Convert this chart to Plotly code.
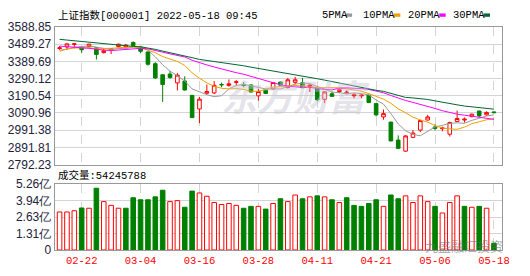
import plotly.graph_objects as go

# ---------------- data ----------------
dates = ["02-17", "02-18", "02-21", "02-22", "02-23", "02-24", "02-25", "02-28",
         "03-01", "03-02", "03-03", "03-04", "03-07", "03-08", "03-09", "03-10", "03-11",
         "03-14", "03-15", "03-16", "03-17", "03-18", "03-21", "03-22", "03-23", "03-24",
         "03-25", "03-28", "03-29", "03-30", "03-31",
         "04-01", "04-06", "04-07", "04-08", "04-11", "04-12", "04-13", "04-14", "04-15",
         "04-18", "04-19", "04-20", "04-21", "04-22", "04-25", "04-26", "04-27", "04-28", "04-29",
         "05-05", "05-06", "05-09", "05-10", "05-11", "05-12", "05-13", "05-16", "05-17", "05-18"]

opens = [3464, 3473, 3488, 3468, 3475, 3468, 3440, 3458, 3476, 3473,
         3499, 3473, 3444, 3376, 3312, 3316, 3265, 3276, 3193, 3114,
         3205, 3207, 3256, 3250, 3268, 3256, 3253, 3190, 3225, 3230,
         3270, 3238, 3268, 3266, 3245, 3230, 3170, 3202, 3215, 3206,
         3190, 3190, 3194, 3145, 3068, 3038, 2934, 2870, 2950, 2992,
         3050, 3010, 3000, 2968, 3042, 3050, 3070, 3102, 3080, 3097]
highs = [3478, 3493, 3495, 3470, 3491, 3471, 3465, 3466, 3492, 3490,
         3505, 3475, 3446, 3385, 3315, 3334, 3322, 3303, 3195, 3184,
         3255, 3276, 3267, 3285, 3281, 3270, 3256, 3230, 3228, 3268,
         3275, 3293, 3300, 3294, 3256, 3232, 3215, 3216, 3240, 3222,
         3206, 3200, 3196, 3146, 3111, 3040, 2961, 2962, 2992, 3052,
         3080, 3025, 3012, 3040, 3105, 3065, 3087, 3105, 3100, 3099]
lows = [3456, 3458, 3465, 3440, 3470, 3400, 3435, 3432, 3470, 3465,
        3478, 3438, 3365, 3287, 3155, 3290, 3221, 3220, 3062, 3032,
        3198, 3200, 3240, 3243, 3250, 3240, 3210, 3162, 3200, 3225,
        3250, 3233, 3256, 3235, 3212, 3160, 3148, 3185, 3205, 3200,
        3175, 3176, 3148, 3071, 3052, 2928, 2882, 2866, 2945, 2980,
        3048, 2990, 2985, 2955, 3040, 3035, 3065, 3068, 3075, 3089]
closes = [3468, 3491, 3491, 3457, 3489, 3430, 3451, 3462, 3489, 3484,
          3481, 3448, 3373, 3294, 3256, 3296, 3310, 3224, 3064, 3171,
          3215, 3251, 3254, 3260, 3271, 3250, 3212, 3215, 3204, 3267,
          3252, 3283, 3283, 3237, 3252, 3167, 3213, 3187, 3226, 3211,
          3196, 3194, 3151, 3080, 3087, 2929, 2886, 2958, 2975, 3047,
          3068, 3002, 3004, 3036, 3059, 3055, 3084, 3074, 3094, 3093]
prev_close = 3465.33

ma5 = [3454, 3460, 3472, 3474, 3479, 3472, 3464, 3458, 3464, 3463,
       3473, 3473, 3455, 3416, 3370, 3333, 3306, 3276, 3230, 3213,
       3197, 3185, 3191, 3230, 3250, 3257, 3249, 3242, 3230, 3230,
       3230, 3244, 3258, 3264, 3261, 3244, 3230, 3211, 3209, 3201,
       3207, 3203, 3196, 3166, 3142, 3088, 3027, 2988, 2967, 2959,
       2987, 3010, 3019, 3031, 3034, 3031, 3048, 3062, 3073, 3080]
ma10 = [3448, 3461, 3467, 3468, 3469, 3463, 3462, 3465, 3469, 3471,
        3473, 3468, 3456, 3440, 3417, 3403, 3389, 3366, 3323, 3292,
        3265, 3245, 3234, 3230, 3232, 3227, 3217, 3216, 3230, 3240,
        3244, 3247, 3250, 3247, 3246, 3237, 3237, 3235, 3237, 3231,
        3226, 3217, 3203, 3188, 3171, 3147, 3115, 3092, 3067, 3050,
        3038, 3018, 3004, 2999, 2996, 3009, 3029, 3040, 3052, 3057]
ma20 = [3478, 3476, 3474, 3468, 3465, 3458, 3455, 3452, 3455, 3456,
        3460, 3465, 3462, 3454, 3443, 3433, 3426, 3415, 3396, 3381,
        3369, 3357, 3345, 3335, 3324, 3315, 3303, 3291, 3277, 3266,
        3254, 3246, 3242, 3239, 3239, 3232, 3227, 3225, 3234, 3236,
        3235, 3232, 3227, 3218, 3208, 3192, 3176, 3163, 3152, 3141,
        3132, 3117, 3104, 3093, 3084, 3078, 3072, 3066, 3060, 3054]
ma30 = [3517, 3513, 3508, 3502, 3499, 3493, 3489, 3485, 3482, 3478,
        3476, 3474, 3468, 3459, 3449, 3440, 3433, 3423, 3411, 3401,
        3395, 3392, 3386, 3379, 3372, 3364, 3356, 3349, 3341, 3334,
        3327, 3320, 3313, 3306, 3298, 3289, 3281, 3272, 3263, 3254,
        3245, 3236, 3229, 3222, 3216, 3204, 3190, 3181, 3178, 3174,
        3169, 3161, 3152, 3145, 3138, 3131, 3127, 3122, 3119, 3113]

# volume in 亿
volumes = [3.04, 3.04, 3.14, 3.36, 3.34, 4.94, 3.87, 3.57, 3.34, 3.34,
           4.18, 4.02, 4.02, 4.25, 4.78, 3.87, 3.95, 3.42, 4.71, 4.56,
           4.30, 3.80, 3.64, 3.72, 3.57, 3.34, 3.49, 3.49, 3.27, 3.72,
           4.10, 3.87, 4.40, 4.10, 4.25, 4.33, 4.25, 4.02, 3.80, 4.18,
           3.57, 3.49, 3.72, 4.02, 3.49, 4.40, 4.10, 4.33, 3.80, 4.33,
           3.87, 3.49, 2.96, 3.80, 4.33, 3.49, 3.42, 3.49, 3.34, 0.54]

price_ticks = [2792.23, 2891.81, 2991.38, 3090.96, 3190.54, 3290.12, 3389.69, 3489.27, 3588.85]
vol_ticks = [0, 1.31, 2.63, 3.94, 5.26]
vol_tick_labels = ["0", "1.31亿", "2.63亿", "3.94亿", "5.26亿"]
label_dates = ["02-22", "03-04", "03-16", "03-28", "04-11", "04-21", "05-06", "05-18"]
title_text = "上证指数[000001] 2022-05-18 09:45"
latest_volume = 54245788
ma_names = ["5PMA", "10PMA", "20PMA", "30PMA"]

# ---------------- styling helpers ----------------
W, H = 530, 276
def px(x):
    return x / W
def py(y):
    return 1 - y / H

RED = "#ff0000"
GREEN = "#008000"
MA_COLORS = ["#999999", "#f0a000", "#ff00ff", "#006633"]

idx = list(range(len(dates)))
tickvals = [dates.index(d) for d in label_dates]

prevs = [prev_close] + closes[:-1]
vol_up = [c >= p for c, p in zip(closes, prevs)]
vol_fill = ["#ffffff" if u else GREEN for u in vol_up]
vol_line = [RED if u else GREEN for u in vol_up]

fig = go.Figure()

fig.add_trace(go.Candlestick(
    x=idx, open=opens, high=highs, low=lows, close=closes,
    increasing=dict(line=dict(color=RED, width=1), fillcolor="#ffffff"),
    decreasing=dict(line=dict(color=GREEN, width=1), fillcolor=GREEN),
    whiskerwidth=0, showlegend=False, hoverinfo="skip",
    xaxis="x", yaxis="y"))

for name, series, col in zip(ma_names, [ma5, ma10, ma20, ma30], MA_COLORS):
    fig.add_trace(go.Scatter(x=idx, y=series, mode="lines", name=name,
                             line=dict(color=col, width=1), showlegend=False,
                             hoverinfo="skip", xaxis="x", yaxis="y"))

fig.add_trace(go.Bar(x=idx, y=volumes, width=0.62,
                     marker=dict(color=vol_fill, line=dict(color=vol_line, width=1)),
                     showlegend=False, hoverinfo="skip", xaxis="x2", yaxis="y2"))

xr = [-0.67, 60.07]
axis_font = dict(family="Liberation Sans, Arial, sans-serif", size=12, color="#22223a")
mono = "Liberation Mono, DejaVu Sans Mono, Noto Sans CJK SC, monospace"

common_x = dict(range=xr, tickvals=tickvals, showgrid=True, gridcolor="#d4d4d4",
                griddash="dash", gridwidth=1, showline=True, mirror=True,
                linecolor="#999999", linewidth=1, zeroline=False, ticks="",
                domain=[px(55.5), px(509.5)], fixedrange=True)

fig.update_layout(
    width=W, height=H, margin=dict(l=0, r=0, t=0, b=0),
    paper_bgcolor="#ffffff", plot_bgcolor="#ffffff",
    xaxis=dict(**common_x, showticklabels=False, anchor="y",
               rangeslider=dict(visible=False)),
    yaxis=dict(domain=[py(166), py(21)], range=[price_ticks[0], price_ticks[-1]],
               tickvals=price_ticks, ticktext=[f"{v:.2f}" for v in price_ticks],
               tickfont=axis_font, showgrid=True, gridcolor="#d4d4d4",
               showline=True, mirror=True, linecolor="#999999", zeroline=False,
               ticks="", anchor="x", fixedrange=True),
    xaxis2=dict(**common_x, anchor="y2", ticktext=label_dates,
                tickfont=dict(family=mono, size=10.5, color=RED)),
    yaxis2=dict(domain=[py(256), py(186.7)], range=[vol_ticks[0], vol_ticks[-1]],
                tickvals=vol_ticks, ticktext=vol_tick_labels,
                tickfont=axis_font, showgrid=True, gridcolor="#d4d4d4",
                showline=True, mirror=True, linecolor="#999999", zeroline=False,
                ticks="", anchor="x2", fixedrange=True),
    bargap=0.3,
)

annotations = []
annotations.append(dict(text=title_text, x=px(57), y=py(8.5), xref="paper", yref="paper",
                        xanchor="left", yanchor="middle", showarrow=False,
                        font=dict(family=mono, size=10.5, color="#000000")))
annotations.append(dict(text=f"成交量:{latest_volume}", x=px(57), y=py(177.5),
                        xref="paper", yref="paper", xanchor="left", yanchor="middle",
                        showarrow=False, font=dict(family=mono, size=10.5, color="#000000")))

# legend (text then coloured swatch)
leg_text_x = [325, 367, 412, 458]
leg_box_x = [351, 400, 446, 491]
shapes = []
for name, col, tx, bx in zip(ma_names, MA_COLORS, leg_text_x, leg_box_x):
    annotations.append(dict(text=name, x=px(tx), y=py(8.5), xref="paper", yref="paper",
                            xanchor="left", yanchor="middle", showarrow=False,
                            font=dict(family=mono, size=10.5, color="#000000")))
    shapes.append(dict(type="rect", xref="paper", yref="paper",
                       x0=px(bx), x1=px(bx + 6.5), y0=py(10.3), y1=py(6.8),
                       fillcolor=col, line=dict(width=0)))

# watermarks
annotations.append(dict(text="<i><b>东方财富</b></i>", x=px(300), y=py(93), xref="paper", yref="paper",
                        xanchor="center", yanchor="middle", showarrow=False,
                        font=dict(family="Noto Sans CJK SC", size=36, color="rgba(195,195,208,0.45)")))
annotations.append(dict(text="九盛融汇投资", x=px(513), y=py(251), xref="paper", yref="paper",
                        xanchor="right", yanchor="middle", showarrow=False,
                        font=dict(family="Noto Sans CJK SC", size=13, color="rgba(110,110,110,0.55)")))

fig.update_layout(annotations=annotations, shapes=shapes)

fig.write_html("out.html")
